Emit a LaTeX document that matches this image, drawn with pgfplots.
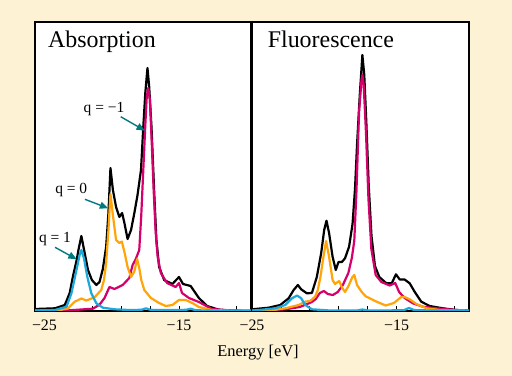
\documentclass[border=0pt]{standalone}
\usepackage{fontspec}
\setmainfont{Liberation Serif}
\usepackage{pgfplots}
\pgfplotsset{compat=1.18}
\usetikzlibrary{arrows.meta}
\definecolor{bgc}{RGB}{253,243,212}
\definecolor{qm}{RGB}{214,0,108}
\definecolor{qz}{RGB}{255,165,10}
\definecolor{qp}{RGB}{27,168,220}
\definecolor{arr}{RGB}{0,122,128}
\pgfplotsset{panel/.style={
  scale only axis, height=289bp,
  xmin=-25, xmax=-10, ymin=0, ymax=289,
  ytick=\empty, xtick={-25,-23,...,-11}, xtick pos=left,
  tick align=inside, major tick length=5bp,
  every tick/.style={black,line width=0.8bp},
  axis line style={line width=1.5bp},
  axis background/.style={fill=white},
  xticklabel style={anchor=base, yshift=-19.7bp, font=\fontsize{16}{16}\selectfont},
  every axis plot/.append style={line width=2.2bp, line join=round},
  anchor=south west}}
\begin{document}
\begin{tikzpicture}
\fill[bgc] (0,0) rectangle (512bp,376bp);
\path[use as bounding box] (0,0) rectangle (512bp,376bp);
% ---------------- Absorption ----------------
\begin{axis}[panel, at={(35bp,65bp)}, width=216bp,
  xticklabels={{\mbox{\makebox[0pt][l]{\kern-3bp −25}}},,,,,{\mbox{−15}},,}]
\addplot[black] coordinates {(-25.00,2)(-23.62,2.7)(-22.93,6)(-22.59,18)(-22.36,35)(-22.12,50)(-21.97,62)(-21.78,75)(-21.55,58)(-21.32,41)(-21.05,31)(-20.74,26)(-20.52,29)(-20.29,42)(-20.06,64)(-19.90,98)(-19.76,143)(-19.59,121)(-19.37,104)(-19.14,94)(-18.95,98)(-18.79,88)(-18.57,72)(-18.33,81)(-18.10,98)(-17.88,116)(-17.64,141)(-17.48,184)(-17.34,218)(-17.19,243)(-17.07,224)(-16.91,184)(-16.72,118)(-16.57,71)(-16.38,44)(-16.03,31)(-15.46,27)(-15.00,34)(-14.72,27)(-14.19,25)(-13.62,13)(-13.05,5)(-12.24,1.3)(-11.34,0.3)(-10,0)};
\addplot[qm] coordinates {(-25,0.3)(-22.81,0.5)(-20.98,2.3)(-20.52,6.3)(-20.17,13)(-19.83,24)(-19.48,22)(-18.91,26)(-18.45,33)(-18.22,46)(-18.00,52)(-17.76,61)(-17.62,96)(-17.48,141)(-17.34,186)(-17.24,214)(-17.14,223)(-17.02,211)(-16.90,171)(-16.76,121)(-16.62,79)(-16.48,54)(-16.26,38)(-15.83,28)(-15.23,24)(-15.00,28)(-14.79,18)(-14.31,13)(-13.62,9)(-12.72,2)(-11.34,0.5)(-10,0.2)};
\addplot[qz] coordinates {(-25,0.3)(-23.3,0.8)(-22.70,2.7)(-22.24,9.3)(-21.78,12.5)(-21.43,10.5)(-20.86,13.7)(-20.40,21)(-20.21,31)(-20.06,48)(-19.90,81)(-19.76,117)(-19.60,97)(-19.37,71)(-19.14,68)(-18.97,69.5)(-18.79,59)(-18.57,44)(-18.33,34)(-18.10,39.5)(-17.91,52)(-17.76,43)(-17.62,31)(-17.41,21)(-16.95,13)(-16.38,8)(-15.92,5)(-15.46,6)(-15.00,11)(-14.54,11)(-14.08,8)(-13.62,4)(-12.72,1)(-11.34,0.3)(-10,0.2)};
\addplot[qp] coordinates {(-25,0.5)(-23.62,1)(-22.81,4.3)(-22.47,17.7)(-22.12,41)(-21.90,56)(-21.78,61)(-21.60,52.7)(-21.37,34.3)(-21.09,17.7)(-20.74,7.7)(-20.29,3.3)(-19.48,1.7)(-18.45,1)(-17.6,1.2)(-17.29,2.7)(-17.0,1.2)(-16.38,1)(-15,1)(-14.5,1.2)(-14.19,2.3)(-13.9,1)(-13.28,0.5)(-10,0.2)};
\node[anchor=base west, inner sep=0, font=\fontsize{24}{24}\selectfont] at (axis cs:-24.10,263.3) {Absorption};
\node[anchor=base, inner sep=0, font=\fontsize{15.5}{15.5}\selectfont] at (axis cs:-20.21,198) {q = −1};
\node[anchor=base, inner sep=0, font=\fontsize{15.5}{15.5}\selectfont] at (axis cs:-22.48,117.7) {q = 0};
\node[anchor=base, inner sep=0, font=\fontsize{15.5}{15.5}\selectfont] at (axis cs:-23.61,68) {q = 1};
\draw[arr, line width=1.4bp, -{Triangle[length=8.5bp,width=7bp]}] (axis cs:-19.05,194.3) -- (axis cs:-17.36,180.3);
\draw[arr, line width=1.4bp, -{Triangle[length=8.5bp,width=7bp]}] (axis cs:-21.53,111.7) -- (axis cs:-19.91,102.7);
\draw[arr, line width=1.4bp, -{Triangle[length=8.5bp,width=7bp]}] (axis cs:-23.61,63.7) -- (axis cs:-22.10,51.7);
\end{axis}
% ---------------- Fluorescence ----------------
\begin{axis}[panel, at={(252bp,65bp)}, width=217bp,
  xticklabels={{\mbox{−25}},,,,,{\mbox{−15}},,}]
\addplot[black] coordinates {(-25,1.7)(-23.85,3.3)(-23.05,6)(-22.47,12.7)(-22.12,21)(-21.83,26)(-21.60,21.7)(-21.21,17.7)(-20.86,18)(-20.52,34)(-20.22,57.7)(-20.01,81)(-19.85,90.3)(-19.67,77.7)(-19.43,54.3)(-19.21,41)(-19.02,49)(-18.79,49)(-18.57,52.7)(-18.29,64.3)(-18.05,87)(-17.88,122)(-17.74,166)(-17.55,216)(-17.37,256)(-17.24,236)(-17.10,190)(-16.93,125)(-16.74,75)(-16.50,45)(-16.20,34)(-15.71,27.7)(-15.34,27.7)(-15.05,36.7)(-14.79,31.5)(-14.45,31.5)(-14.10,27.7)(-13.76,19.3)(-13.30,9.3)(-12.72,5)(-11.81,2.7)(-10.88,1)(-10,0.3)};
\addplot[qm] coordinates {(-25,0.3)(-22.70,1.7)(-21.69,4)(-20.86,9)(-20.59,12)(-20.31,18)(-20.03,20)(-19.76,17)(-19.41,16)(-19.07,19)(-18.72,26)(-18.34,38)(-18.10,53)(-17.93,70)(-17.78,120)(-17.60,199)(-17.43,231)(-17.37,236)(-17.28,226)(-17.12,178)(-16.95,112)(-16.75,62)(-16.45,36)(-16.06,29)(-15.48,25.5)(-15.10,28)(-14.83,19)(-14.45,13)(-13.88,7.7)(-13.19,4.3)(-12.26,2.7)(-10.88,1)(-10,0.3)};
\addplot[qz] coordinates {(-25,0.3)(-23.5,1)(-22.70,2.7)(-21.78,6)(-21.28,9.5)(-20.98,10)(-20.63,14.5)(-20.45,21)(-20.26,35)(-20.06,54.3)(-19.88,70)(-19.67,54)(-19.43,31)(-19.26,27)(-18.98,30)(-18.76,23)(-18.57,19)(-18.33,25)(-18.06,34)(-17.93,36)(-17.74,26)(-17.43,19.3)(-17.14,14.7)(-16.86,12.7)(-16.45,9.7)(-15.76,5.5)(-15.19,8)(-14.68,14)(-14.45,14)(-14.10,11.7)(-13.64,7)(-12.95,2.7)(-12.03,1)(-10,0.3)};
\addplot[qp] coordinates {(-25,0.3)(-23.39,2.7)(-22.70,6)(-22.24,12.7)(-21.88,15.5)(-21.60,12.7)(-21.32,6)(-20.86,1.7)(-19.62,0.5)(-17.7,0.6)(-17.37,1.5)(-17.0,0.6)(-16.17,0.5)(-14.5,0.8)(-14.15,3)(-13.8,1)(-13.41,0.7)(-10,0.3)};
\node[anchor=base west, inner sep=0, font=\fontsize{24}{24}\selectfont] at (axis cs:-23.92,263.3) {Fluorescence};
\end{axis}
\node[anchor=base, inner sep=0, font=\fontsize{16.5}{16.5}\selectfont] at (258bp,20bp) {Energy [eV]};
\end{tikzpicture}
\end{document}
